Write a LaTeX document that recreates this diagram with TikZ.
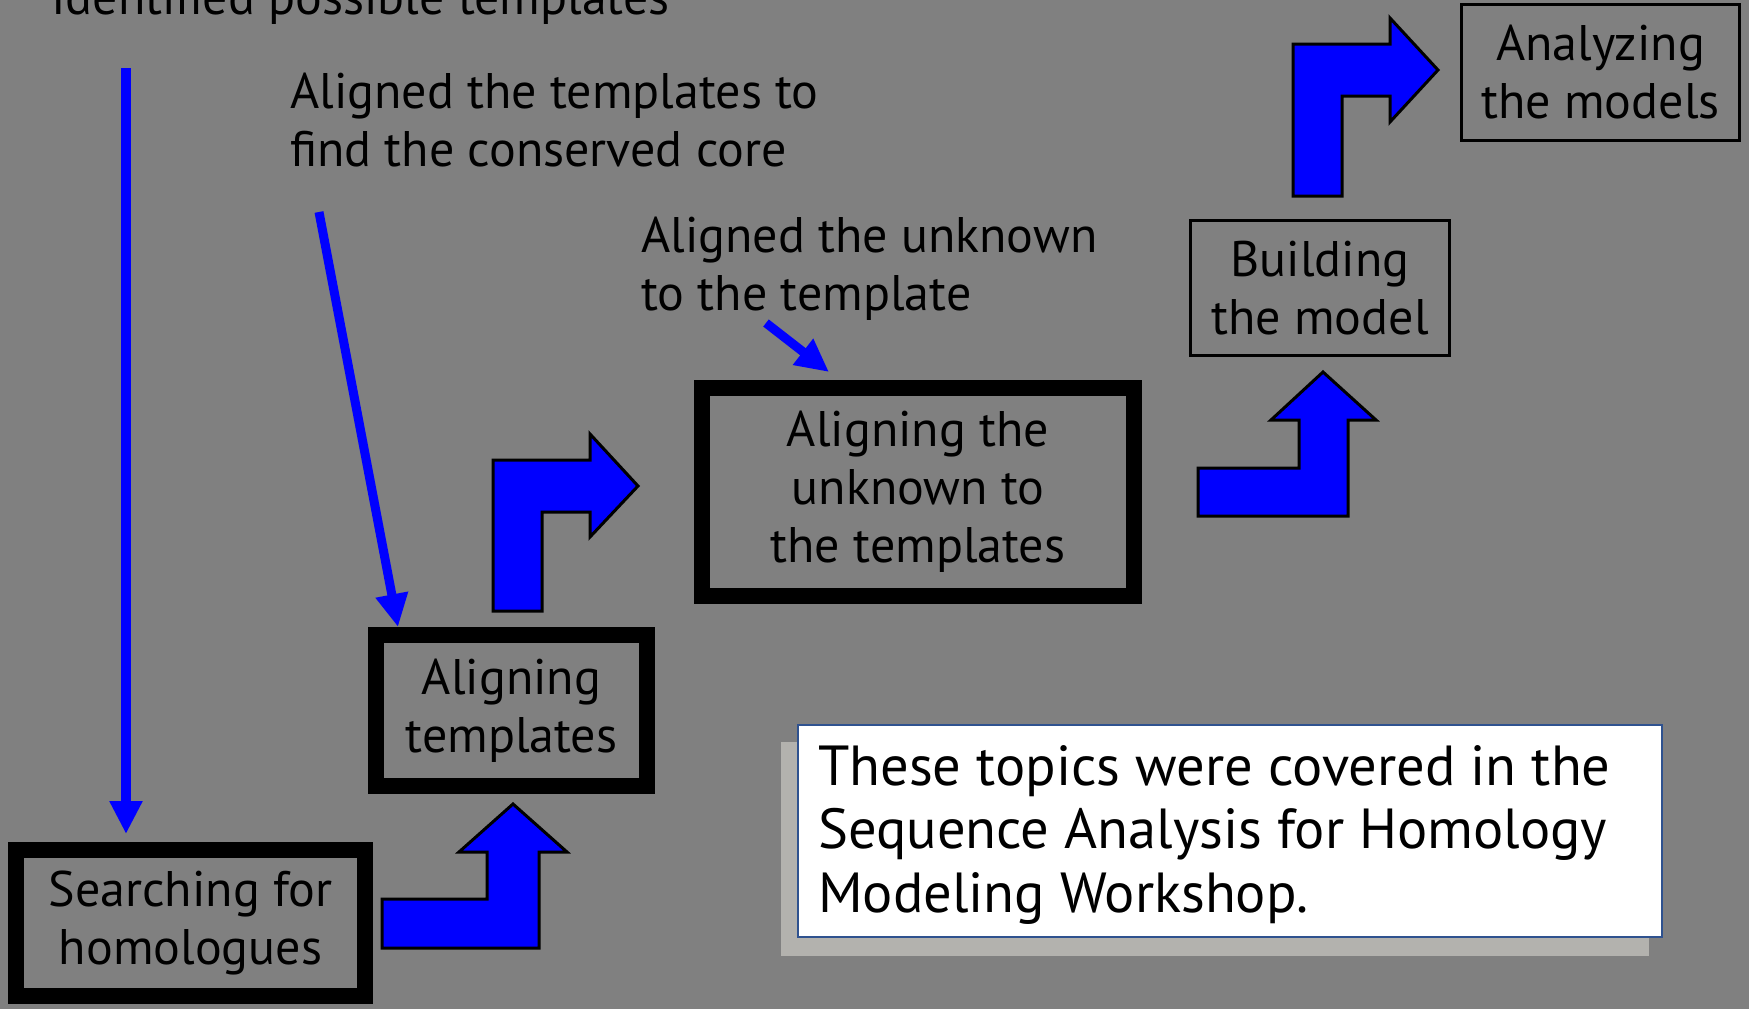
\documentclass[tikz,border=0pt]{standalone}
\usepackage{fontspec}
\setmainfont{PT Sans}
\usetikzlibrary{arrows.meta}
\definecolor{slidegray}{RGB}{128,128,128}
\definecolor{pureblue}{RGB}{0,0,255}
\definecolor{shadowgray}{RGB}{179,178,174}
\definecolor{noteborder}{RGB}{47,82,143}
\begin{document}
\begin{tikzpicture}[x=1pt,y=-1pt,
  every node/.style={font=\fontsize{50}{58}\selectfont, text=black},
  stepbox/.style={draw=black, line width=16pt, inner sep=0pt, align=center},
  thinbox/.style={draw=black, line width=3pt, inner sep=0pt, align=center},
  % multi-line labels: base anchor sits on the last line's baseline
  lbl/.style={anchor=base west, align=left, inner sep=0pt},
  pointer/.style={draw=pureblue, line width=9pt, -{Triangle[length=33pt,width=31pt]}},
  blockarrow/.style={fill=pureblue, draw=black, line width=3pt, line join=miter},
]
\useasboundingbox (0,0) rectangle (1749,1009);
\clip (0,0) rectangle (1749,1009);
\fill[slidegray] (0,0) rectangle (1749,1009);

% process steps
\node[stepbox, minimum width=349pt, minimum height=146pt] (search) at (190.5,923) {Searching for\\homologues};
\node[stepbox, minimum width=271pt, minimum height=151pt] (atemp) at (511.5,710.5) {Aligning\\templates};
\node[stepbox, minimum width=432pt, minimum height=208pt] (aunk) at (918,492) {Aligning the\\unknown to\\the templates};
\node[thinbox, minimum width=259pt, minimum height=135pt] (build) at (1320,288) {Building\\the model};
\node[thinbox, minimum width=278pt, minimum height=136pt] (analyze) at (1600.5,72.5) {Analyzing\\the models};

% annotations
\node[lbl] (idlbl) at (51,14) {Identified possible templates};
\node[lbl] (corelbl) at (290,166) {Aligned the templates to\\find the conserved core};
\node[lbl] (unklbl) at (641,310) {Aligned the unknown\\to the template};

% pointers from annotations to steps
\coordinate (idtail) at (126,68);
\coordinate (coretail) at (319,212);
\coordinate (unktail) at (766,323);
\draw[pointer, line width=10pt] (idtail) -- ([xshift=-64.5pt,yshift=8pt]search.north);
\draw[pointer] (coretail) -- ([xshift=-113.5pt]atemp.north);
\draw[pointer] (unktail) -- ([xshift=-89pt,yshift=8pt]aunk.north);

% bent block arrows between steps
\draw[blockarrow] (382,948) -- (539,948) -- (539,852) -- (567,852) -- (513,804)
  -- (459,852) -- (487,852) -- (487,899) -- (382,899) -- cycle;
\draw[blockarrow] (493,611) -- (542,611) -- (542,512) -- (590,512) -- (590,537)
  -- (638,486) -- (590,434) -- (590,460) -- (493,460) -- cycle;
\draw[blockarrow] (1198,516) -- (1348,516) -- (1348,420) -- (1376,420) -- (1323,372)
  -- (1271,420) -- (1299,420) -- (1299,468) -- (1198,468) -- cycle;
\draw[blockarrow] (1293,196) -- (1342,196) -- (1342,96) -- (1390,96) -- (1390,122)
  -- (1438,70) -- (1390,18) -- (1390,44) -- (1293,44) -- cycle;

% note with drop shadow
\fill[shadowgray] (781,742) rectangle (1649,956);
\node[draw=noteborder, fill=white, line width=2.5pt, inner sep=0pt,
      minimum width=864pt, minimum height=212pt] (note) at (1230,831) {};
\node[lbl, font=\fontsize{56.5}{63.5}\selectfont] (notetext) at (818,912)
  {These topics were covered in the\\Sequence Analysis for Homology\\Modeling Workshop.};
\end{tikzpicture}
\end{document}
